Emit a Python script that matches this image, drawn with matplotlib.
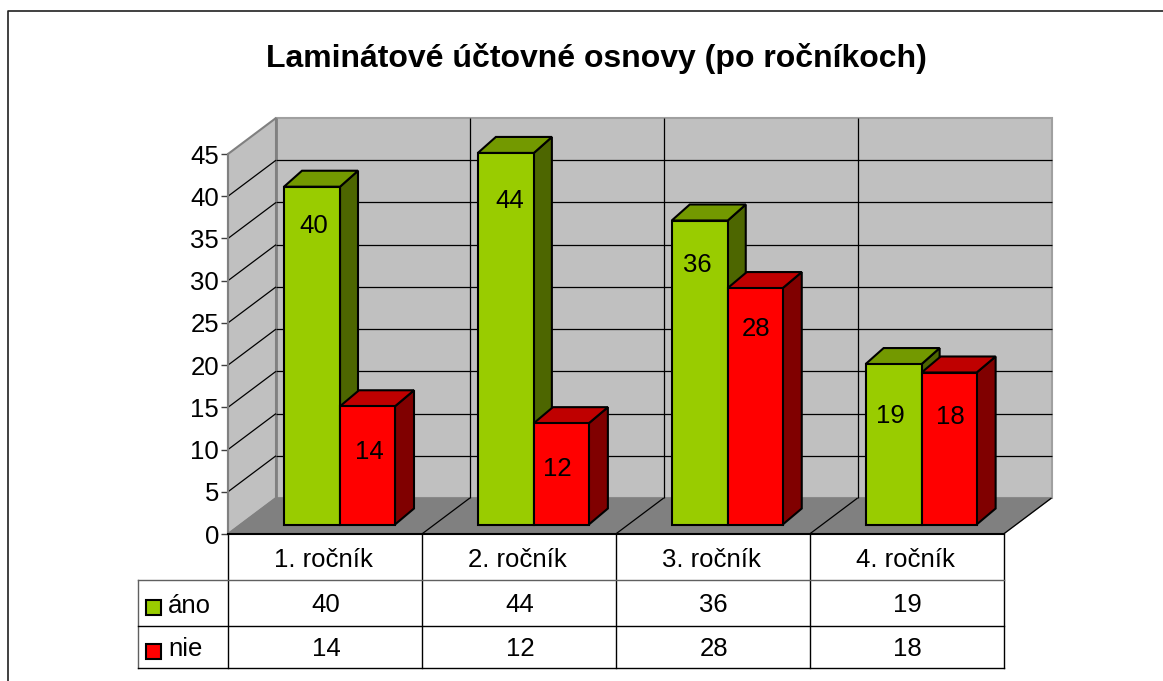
import matplotlib
matplotlib.use("Agg")
from matplotlib import pyplot as plt
from matplotlib.patches import Polygon, Rectangle

rocniky = ["1. ročník", "2. ročník", "3. ročník", "4. ročník"]
ano = [40, 44, 36, 19]
nie = [14, 12, 28, 18]
yticks = [0, 5, 10, 15, 20, 25, 30, 35, 40, 45]
nazov = "Laminátové účtovné osnovy (po ročníkoch)"

plt.rcParams["font.family"] = "Liberation Sans"

W, H = 1163, 681
fs = 18.5
fig = plt.figure(figsize=(W/100, H/100), dpi=100, facecolor="white")

# pixel overlay for frame, table and title
bg = fig.add_axes([0, 0, 1, 1])
bg.set_xlim(0, W)
bg.set_ylim(H, 0)
bg.axis("off")

x0, x1, y0, y1 = 228, 1003.5, 534, 154
ax = fig.add_axes([x0/W, 1-y0/H, (x1-x0)/W, (y0-y1)/H])
ax.set_xlim(0, 4)
ax.set_ylim(0, 45)
ax.patch.set_visible(False)

# conversion of pixels to data units
px = 4/(x1-x0)
py = 45/(y0-y1)
dx = 48*px
dy = 36*py


def poly(pts, fc, ec="black", lw=1.5, z=2):
    ax.add_patch(Polygon(pts, closed=True, facecolor=fc, edgecolor=ec, linewidth=lw,
                         zorder=z, clip_on=False, joinstyle="miter"))


def line(xs, ys, c="black", lw=0.9, z=1):
    ax.plot(xs, ys, color=c, lw=lw, zorder=z, clip_on=False, solid_capstyle="butt")


# walls and floor
poly([(0, 0), (dx, dy), (dx, 45+dy), (0, 45)], "#C0C0C0", "#808080", 1.5, 0.5)
poly([(dx, dy), (4+dx, dy), (4+dx, 45+dy), (dx, 45+dy)], "#C0C0C0", "#A0A0A0", 1.5, 0.4)
poly([(0, 0), (4, 0), (4+dx, dy), (dx, dy)], "#808080", "#808080", 1.0, 0.6)
line([dx, dx], [dy, 45+dy], "#808080", 2.0, 0.7)

for v in yticks[1:-1]:
    line([0, dx], [v, v+dy], z=0.8)
    line([dx, 4+dx], [v+dy, v+dy], z=0.8)
for i in range(1, 4):
    line([i+dx, i+dx], [dy, 45+dy], z=0.8)
for i in range(1, 5):
    line([i, i+dx], [0, dy], z=0.8)

# bars
bar_start = 56*px
base = 9.5*py
hy = 16*py


def bar(x, v, w, hx, front, top, side):
    poly([(x+w, base), (x+w+hx, base+hy), (x+w+hx, v+base+hy), (x+w, v+base)], side)
    poly([(x, v+base), (x+hx, v+base+hy), (x+w+hx, v+base+hy), (x+w, v+base)], top)
    poly([(x, base), (x+w, base), (x+w, v+base), (x, v+base)], front)


ano_off = [(2, -39), (4, -48), (-2, -44), (-3, -52)]
nie_off = [(2, -46), (-4, -46), (1, -41), (1, -45)]
for i in range(len(rocniky)):
    xa = i+bar_start
    bar(xa, ano[i], 56*px, 18*px, "#99CC00", "#739900", "#4D6600")
    xb = xa+56*px
    wb = 55*px
    bar(xb, nie[i], wb, 19*px, "#FF0000", "#BF0000", "#800000")
    for xx, w, v, off in ((xa, 56*px, ano[i], ano_off[i]), (xb, wb, nie[i], nie_off[i])):
        ax.annotate(str(v), (xx+w/2, v+base), xytext=(off[0]*0.72, off[1]*0.72),
                    textcoords="offset points", ha="center", va="center", fontsize=fs,
                    color="black", zorder=5, annotation_clip=False)

# axis
ax.set_xticks([])
ax.set_yticks(yticks)
ax.tick_params(axis="y", length=5, width=1, color="#404040", labelsize=fs, pad=1.5)
for s in ["top", "right"]:
    ax.spines[s].set_visible(False)
ax.spines["left"].set_color("#808080")
ax.spines["left"].set_linewidth(1.5)
ax.spines["bottom"].set_linewidth(1.5)
ax.spines["bottom"].set_zorder(4)

# frame (left and top only)
bg.plot([7.5, 7.5, W], [H, 10.5, 10.5], color="#202020", lw=1.2)

bg.text(596, 58.5, nazov, ha="center", va="center", fontsize=23, fontweight="bold")

# data table
cols = [228 + k*(x1-x0)/4 for k in range(5)]
r0, r1, r2, r3 = 534, 580, 626, 668
xl = 137.5
for c in cols:
    bg.plot([c, c], [r0, r3], color="black", lw=1.0)
bg.plot([xl, xl], [r1, r3], color="#606060", lw=1.0)
bg.plot([xl, x1], [r1, r1], color="#606060", lw=1.0)
bg.plot([xl, x1], [r2, r2], color="black", lw=1.0)
bg.plot([xl, x1], [r3, r3], color="black", lw=1.0)

for i in range(len(rocniky)):
    cx = (cols[i]+cols[i+1])/2
    bg.text(cx-1.5, (r0+r1)/2+3, rocniky[i], ha="center", va="center", fontsize=fs)
    bg.text(cx+1, (r1+r2)/2+2, str(ano[i]), ha="center", va="center", fontsize=fs)
    bg.text(cx+1, (r2+r3)/2+2, str(nie[i]), ha="center", va="center", fontsize=fs)

for yc, name, col in ((607.5, "áno", "#99CC00"), (651, "nie", "#FF0000")):
    bg.add_patch(Rectangle((145.5, yc-7.5), 15, 15, facecolor=col, edgecolor="black", lw=1.5))
    bg.text(168, yc-1.5, name, ha="left", va="center", fontsize=fs)

fig.savefig("out.png", dpi=100)
